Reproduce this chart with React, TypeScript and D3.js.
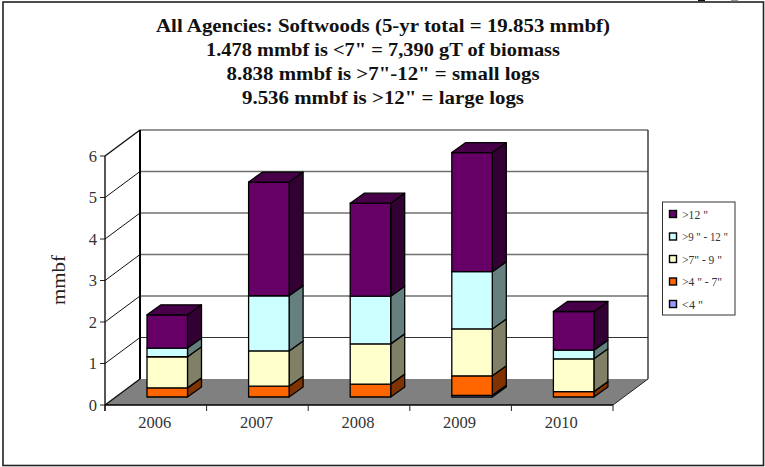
import React from "react";
import * as d3 from "d3";

const years = ["2006", "2007", "2008", "2009", "2010"];
const seriesKeys = ["<4\"", ">4\"-7\"", ">7\"-9\"", ">9\"-12\"", ">12\""];
const lt4 = [0, 0, 0, 0.04, 0];
const gt4to7 = [0.22, 0.26, 0.31, 0.47, 0.13];
const gt7to9 = [0.75, 0.85, 0.97, 1.13, 0.79];
const gt9to12 = [0.21, 1.33, 1.15, 1.38, 0.21];
const gt12 = [0.8, 2.74, 2.24, 2.87, 0.93];
const seriesValues = [lt4, gt4to7, gt7to9, gt9to12, gt12];
const fills = ["#9999FF", "#FF6600", "#FFFFCC", "#CCFFFF", "#660066"];
const sides = ["#4d4d80", "#803300", "#808066", "#668080", "#330033"];
const legendLabels = [">12 \"", ">9 \" - 12 \"", ">7\" - 9 \"", ">4 \" - 7\"", "<4 \""];
const legendWidths = [26, 46, 40, 40, 21];
const legendFills = ["#660066", "#CCFFFF", "#FFFFCC", "#FF6600", "#9999FF"];
const yTicks = [0, 1, 2, 3, 4, 5, 6];
const titleLines = [
  "All Agencies: Softwoods (5-yr total = 19.853 mmbf)",
  "1.478 mmbf is <7\" = 7,390 gT of biomass",
  "8.838 mmbf is >7\"-12\" = small logs",
  "9.536 mmbf is >12\" = large logs",
];
const titleWidths = [454, 354, 313, 282];

const font = "'Liberation Serif', serif";

const x = d3.scaleBand<string>().domain(years).range([105, 613]);
const y = d3.scaleLinear().domain([0, 6]).range([405, 156]);
const WALL_DX = 35;
const WALL_DY = -26;
const BAR_OFFSET_X = 42;
const BAR_OFFSET_Y = -8;
const BAR_W = 40.5;
const BAR_DX = 14;
const BAR_DY = -10;

const rows = years.map((year, i) => {
  const r: Record<string, number | string> = { year };
  seriesKeys.forEach((k, s) => (r[k] = seriesValues[s][i]));
  return r;
});
const stacked = d3.stack<any>().keys(seriesKeys)(rows);

const pts = (p: number[][]) => p.map((a) => a.join(",")).join(" ");

export default function App() {
  const x0 = 105;
  const x1 = 613;
  const y0 = y(0);
  const y6 = y(6);
  return (
    <svg
      width={765}
      height={467}
      style={{ position: "absolute", left: 0, top: 0, background: "#fff", display: "block" }}
    >
      <rect x={3} y={2} width={760.5} height={463.5} fill="#fff" stroke="#222" strokeWidth={1.6} />
      <rect x={698} y={0} width={7} height={1.2} fill="#111" />
      <rect x={731} y={0} width={7} height={1.2} fill="#999" />

      {titleLines.map((t, i) => (
        <text
          key={i}
          x={383}
          y={31.5 + i * 24}
          textAnchor="middle"
          fontFamily={font}
          fontWeight="bold"
          fontSize={19}
          fill="#111"
          textLength={titleWidths[i]}
          lengthAdjust="spacingAndGlyphs"
        >
          {t}
        </text>
      ))}

      {/* floor */}
      <polygon
        points={pts([
          [x0, y0],
          [x0 + WALL_DX, y0 + WALL_DY],
          [x1 + WALL_DX, y0 + WALL_DY],
          [x1, y0],
        ])}
        fill="#808080"
      />

      {/* back wall gridlines and side wall diagonals */}
      {yTicks.map((t) => (
        <g key={t}>
          {t > 0 && (
            <line
              x1={x0 + WALL_DX}
              x2={x1 + WALL_DX}
              y1={y(t) + WALL_DY}
              y2={y(t) + WALL_DY}
              stroke={t === 1 ? "#333" : "#707070"}
              strokeWidth={t === 1 ? 1 : 1.5}
            />
          )}
          <line
            x1={x0}
            x2={x0 + WALL_DX}
            y1={y(t)}
            y2={y(t) + WALL_DY}
            stroke="#111"
            strokeWidth={t === 6 || t === 0 ? 1.4 : 1}
          />
          <line x1={x0 - 5} x2={x0} y1={y(t)} y2={y(t)} stroke="#222" strokeWidth={1} />
          <text
            x={97}
            y={y(t) + 5.5}
            textAnchor="end"
            fontFamily={font}
            fontSize={16.5}
            fill="#333"
          >
            {t}
          </text>
        </g>
      ))}

      {/* walls */}
      <line x1={x0} x2={x0} y1={y6} y2={y0 + 6} stroke="#111" strokeWidth={1.4} />
      <line x1={x0 + WALL_DX} x2={x0 + WALL_DX} y1={y6 + WALL_DY} y2={y0 + WALL_DY} stroke="#000" strokeWidth={2} />
      <line x1={x1 + WALL_DX} x2={x1 + WALL_DX} y1={y6 + WALL_DY} y2={y0 + WALL_DY} stroke="#222" strokeWidth={1.3} />
      <line x1={x1} x2={x1 + WALL_DX} y1={y0} y2={y0 + WALL_DY} stroke="#222" strokeWidth={1} />
      <line x1={x0} x2={x1} y1={y0} y2={y0} stroke="#000" strokeWidth={1.3} />

      {/* category ticks */}
      {[...years.map((d) => x(d) as number), x1].map((p, i) => (
        <line key={i} x1={p} x2={p} y1={y0} y2={y0 + 6} stroke="#222" strokeWidth={1} />
      ))}
      {years.map((d) => (
        <text
          key={d}
          x={(x(d) as number) + x.bandwidth() / 2 - 1}
          y={428}
          textAnchor="middle"
          fontFamily={font}
          fontSize={16.5}
          fill="#333"
        >
          {d}
        </text>
      ))}

      {/* stacked 3D bars */}
      {years.map((d, i) => {
        const bx = (x(d) as number) + BAR_OFFSET_X;
        const topSeries = stacked[stacked.length - 1][i];
        const topY = y(topSeries[1]) + BAR_OFFSET_Y;
        return (
          <g key={d} stroke="#000" strokeWidth={1.3} strokeLinejoin="round">
            {stacked.map((s, si) => {
              const a = s[i][0];
              const b = s[i][1];
              if (b - a <= 0) return null;
              const yb = y(a) + BAR_OFFSET_Y;
              const yt = y(b) + BAR_OFFSET_Y;
              return (
                <g key={si}>
                  <polygon
                    points={pts([
                      [bx + BAR_W, yb],
                      [bx + BAR_W + BAR_DX, yb + BAR_DY],
                      [bx + BAR_W + BAR_DX, yt + BAR_DY],
                      [bx + BAR_W, yt],
                    ])}
                    fill={sides[si]}
                  />
                  <rect x={bx} y={yt} width={BAR_W} height={yb - yt} fill={fills[si]} />
                </g>
              );
            })}
            <polygon
              points={pts([
                [bx, topY],
                [bx + BAR_DX, topY + BAR_DY],
                [bx + BAR_W + BAR_DX, topY + BAR_DY],
                [bx + BAR_W, topY],
              ])}
              fill="#470047"
            />
          </g>
        );
      })}

      {/* y title */}
      <text
        transform="translate(65,280) rotate(-90)"
        textAnchor="middle"
        fontFamily={font}
        fontSize={19}
        fill="#222"
        textLength={50}
        lengthAdjust="spacingAndGlyphs"
      >
        mmbf
      </text>

      {/* legend */}
      <rect x={662.5} y={202} width={72.5} height={113} fill="#fff" stroke="#333" strokeWidth={1} />
      {legendLabels.map((l, i) => {
        const cy = 214 + i * 22.5;
        return (
          <g key={l}>
            <rect x={669.5} y={cy - 3.5} width={7} height={7} fill={legendFills[i]} stroke="#000" strokeWidth={1.4} />
            <text
              x={682}
              y={cy + 4.5}
              fontFamily={font}
              fontSize={13.5}
              fill="#333"
              textLength={legendWidths[i]}
              lengthAdjust="spacingAndGlyphs"
            >
              {l}
            </text>
          </g>
        );
      })}
    </svg>
  );
}
